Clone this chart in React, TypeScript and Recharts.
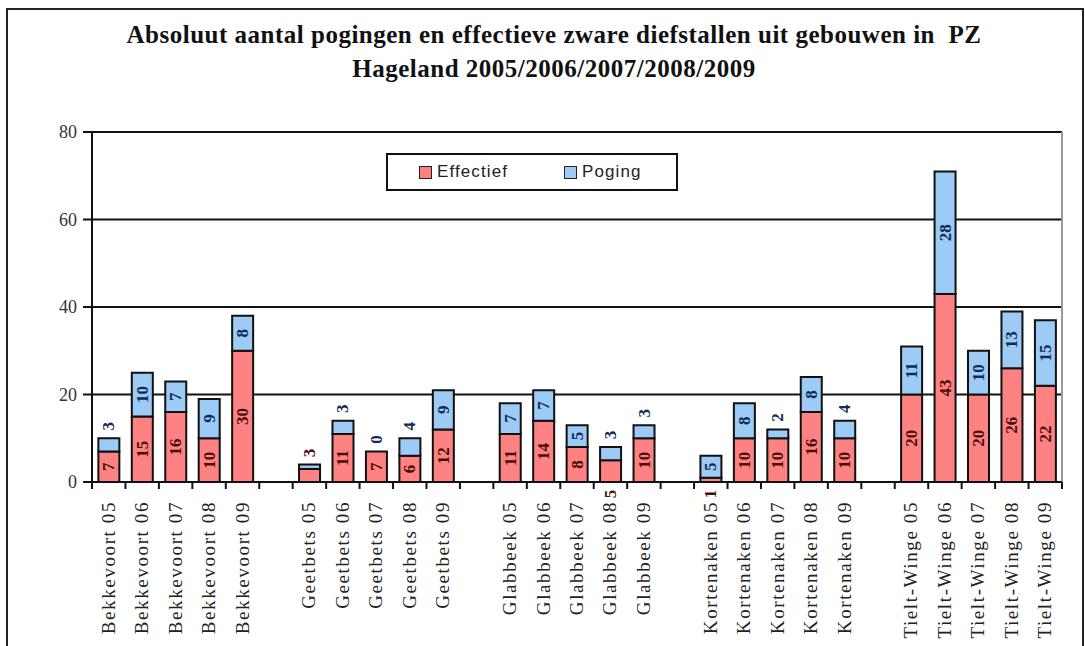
import { BarChart, Bar, XAxis, YAxis, CartesianGrid, LabelList } from "recharts";

// categories, with empty slots between the municipalities
const categories = [
  "Bekkevoort 05", "Bekkevoort 06", "Bekkevoort 07", "Bekkevoort 08", "Bekkevoort 09", "",
  "Geetbets 05", "Geetbets 06", "Geetbets 07", "Geetbets 08", "Geetbets 09", "",
  "Glabbeek 05", "Glabbeek 06", "Glabbeek 07", "Glabbeek 08", "Glabbeek 09", "",
  "Kortenaken 05", "Kortenaken 06", "Kortenaken 07", "Kortenaken 08", "Kortenaken 09", "",
  "Tielt-Winge 05", "Tielt-Winge 06", "Tielt-Winge 07", "Tielt-Winge 08", "Tielt-Winge 09",
];
const effectief = [7, 15, 16, 10, 30, null, 3, 11, 7, 6, 12, null, 11, 14, 8, 5, 10, null, 1, 10, 10, 16, 10, null, 20, 43, 20, 26, 22];
const poging = [3, 10, 7, 9, 8, null, 1, 3, 0, 4, 9, null, 7, 7, 5, 3, 3, null, 5, 8, 2, 8, 4, null, 11, 28, 10, 13, 15];
const yTicks = [0, 20, 40, 60, 80];
const series = [
  { key: "Effectief", color: "#ff8282" },
  { key: "Poging", color: "#9ccbf6" },
];

const data = categories.map((name, i) => ({ name, Effectief: effectief[i], Poging: poging[i] }));

const SERIF = "'Liberation Serif', 'Times New Roman', serif";
const PLOT_LEFT = 92;
const PLOT_W = 970;
const STEP = PLOT_W / categories.length;

function XTick({ x, y, payload, index }: any) {
  const half = STEP / 2;
  return (
    <g>
      <line x1={x - half} x2={x - half} y1={y} y2={y + 7} stroke="#111" strokeWidth={2} />
      {index === categories.length - 1 && (
        <line x1={x + half} x2={x + half} y1={y} y2={y + 7} stroke="#111" strokeWidth={2} />
      )}
      {payload.value && (
        <text transform={`translate(${x + 6},${y + 19}) rotate(-90)`} textAnchor="end"
          fontFamily={SERIF} fontSize={19} letterSpacing={1.6} fill="#222">{payload.value}</text>
      )}
    </g>
  );
}

function VLabel({ cx, cy, value, fill }: { cx: number; cy: number; value: number; fill: string }) {
  return (
    <text x={cx} y={cy} transform={`rotate(-90 ${cx} ${cy})`} textAnchor="middle" dominantBaseline="central"
      fontFamily={SERIF} fontWeight="bold" fontSize={17} fill={fill}>{value}</text>
  );
}

const indexOf = (x: number, width: number) => Math.floor((x + width / 2 - PLOT_LEFT) / STEP);

const effLabel = (p: any) => {
  const { x, y, width, height, value } = p;
  if (value == null) return null;
  const i = indexOf(x, width);
  const cx = x + width / 2;
  let cy = y + height / 2;
  if (value < 6) cy = poging[i] === 1 ? y - 16 : y + height + 12;
  return (
    <g>
      <VLabel cx={cx} cy={cy} value={value} fill="#4a0d0d" />
      {/* a zero attempt count has no segment of its own, so its label sits on the red bar */}
      {poging[i] === 0 && <VLabel cx={cx} cy={y - 12} value={0} fill="#132a55" />}
    </g>
  );
};

const pogLabel = (p: any) => {
  const { x, y, width, height, value } = p;
  if (value == null || value <= 1) return null;
  const cx = x + width / 2;
  const cy = value >= 5 ? y + height / 2 : y - 12;
  return <VLabel cx={cx} cy={cy} value={value} fill="#132a55" />;
};

export default function App() {
  return (
    <div style={{ position: "absolute", left: 0, top: 0, width: 1085, height: 646, background: "#fff", overflow: "hidden" }}>
      <div style={{ position: "absolute", left: 6, top: 8, width: 1074, height: 700, border: "2px solid #222" }} />
      <div style={{ position: "absolute", left: 0, top: 18, width: 1108, textAlign: "center", fontFamily: SERIF,
        fontWeight: "bold", fontSize: 25, letterSpacing: 0.5, lineHeight: "34px", color: "#111" }}>
        Absoluut aantal pogingen en effectieve zware diefstallen uit gebouwen in&nbsp; PZ<br />
        Hageland 2005/2006/2007/2008/2009
      </div>
      <BarChart width={1085} height={646} data={data} barCategoryGap="19%"
        margin={{ top: 132, right: 23, bottom: 0, left: 52 }} style={{ position: "absolute", left: 0, top: 0 }}>
        <CartesianGrid vertical={false} stroke="#111" strokeWidth={2} />
        <CartesianGrid horizontal={false} verticalPoints={[1062]} stroke="#999" strokeWidth={2} />
        <XAxis dataKey="name" interval={0} height={164} tickSize={0} tickMargin={0} tickLine={false}
          axisLine={{ stroke: "#111", strokeWidth: 2 }} tick={<XTick />} />
        <YAxis width={40} domain={[0, 80]} ticks={yTicks} tickSize={9} tickMargin={6}
          axisLine={{ stroke: "#111", strokeWidth: 2 }} tickLine={{ stroke: "#111", strokeWidth: 2 }}
          tick={{ fontFamily: SERIF, fontSize: 18, fill: "#333" }} />
        {series.map((s) => (
          <Bar key={s.key} dataKey={s.key} stackId="a" fill={s.color} stroke="#111" strokeWidth={2} isAnimationActive={false}>
            <LabelList dataKey={s.key} content={s.key === "Effectief" ? effLabel : pogLabel} />
          </Bar>
        ))}
      </BarChart>
      <div style={{ position: "absolute", left: 386, top: 153, width: 292, height: 38, border: "2px solid #111",
        display: "flex", alignItems: "center", background: "#fff", boxSizing: "border-box",
        fontFamily: "'Liberation Sans', Arial, sans-serif", fontSize: 17, letterSpacing: 1.1, color: "#222" }}>
        {series.map((s, i) => (
          <div key={s.key} style={{ display: "flex", alignItems: "center", marginLeft: i === 0 ? 31 : 56 }}>
            <span style={{ width: 11, height: 11, background: s.color, border: "1.5px solid #222", marginRight: 5 }} />
            <span>{s.key}</span>
          </div>
        ))}
      </div>
    </div>
  );
}
